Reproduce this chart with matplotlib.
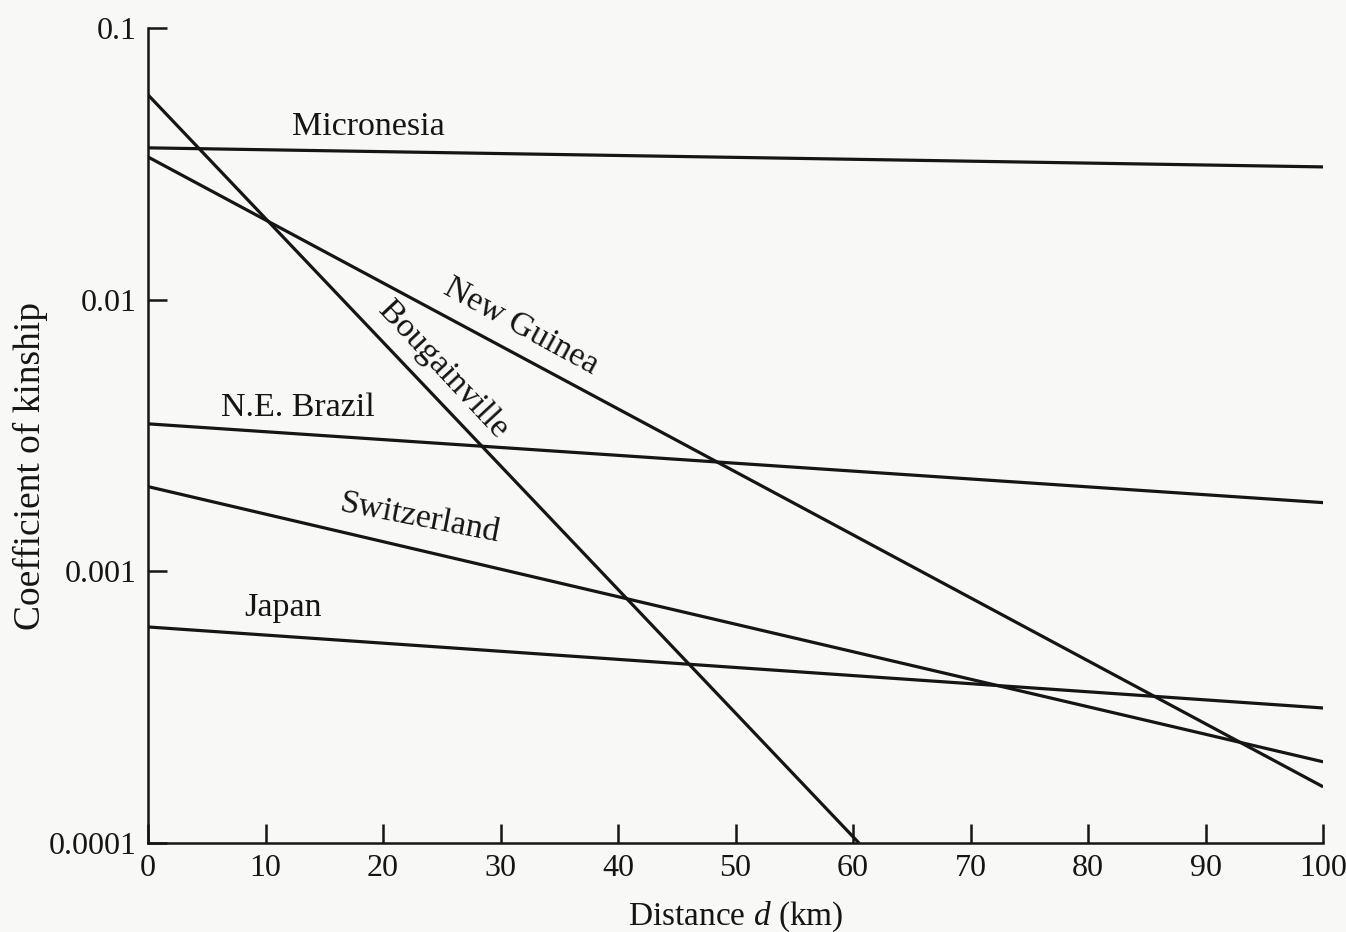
import numpy as np
import matplotlib
matplotlib.use("Agg")
import matplotlib.pyplot as plt

# Kinship decline with distance: each population is a straight line on a log scale,
# given by its coefficient at d = 0 and at the far end of the line.
populations = ["Micronesia", "New Guinea", "Bougainville", "N.E. Brazil", "Switzerland", "Japan"]
kin_start = [0.0362, 0.0335, 0.0567, 0.00349, 0.00205, 0.000624]
kin_end = [0.0308, 0.000161, 0.0001, 0.00179, 0.000199, 0.000314]
dist_end = [100, 100, 60.5, 100, 100, 100]

x_ticks = [0, 10, 20, 30, 40, 50, 60, 70, 80, 90, 100]
y_ticks = [0.0001, 0.001, 0.01, 0.1]
y_tick_labels = ["0.0001", "0.001", "0.01", "0.1"]

# label placement (axes fraction) and rotation for each population
label_pos = {
    "Micronesia": (0.1872, 0.8785, 0),
    "New Guinea": (0.3170, 0.6340, -28.5),
    "Bougainville": (0.2511, 0.5810, -47),
    "N.E. Brazil": (0.1277, 0.5340, 0),
    "Switzerland": (0.2315, 0.3988, -11),
    "Japan": (0.1149, 0.2890, 0),
}

plt.rcParams["font.family"] = ["Liberation Serif", "DejaVu Serif"]
plt.rcParams["mathtext.fontset"] = "custom"
plt.rcParams["mathtext.it"] = "Liberation Serif:italic"
plt.rcParams["mathtext.rm"] = "Liberation Serif"
bg = "#f8f8f6"
ink = "#151515"

fig = plt.figure(figsize=(13.46, 9.32), dpi=100, facecolor=bg)
ax = fig.add_axes([0.11, 0.0955, 0.873, 0.8745], facecolor=bg)

for name, y0, y1, d1 in zip(populations, kin_start, kin_end, dist_end):
    ax.plot([0, d1], [y0, y1], color=ink, lw=2.3, solid_capstyle="butt")
    fx, fy, rot = label_pos[name]
    ax.text(fx, fy, name, transform=ax.transAxes, ha="center", va="center",
            rotation=rot, rotation_mode="anchor", fontsize=24.5, color=ink)

ax.set_yscale("log")
ax.set_xlim(0, 100)
ax.set_ylim(0.0001, 0.1)
ax.set_xticks(x_ticks)
ax.set_xticklabels([str(t) for t in x_ticks])
ax.set_yticks(y_ticks)
ax.set_yticklabels(y_tick_labels)
ax.yaxis.set_minor_locator(matplotlib.ticker.NullLocator())

for side in ("top", "right"):
    ax.spines[side].set_visible(False)
for side in ("left", "bottom"):
    ax.spines[side].set_linewidth(1.8)
    ax.spines[side].set_color(ink)

ax.tick_params(axis="both", direction="in", length=14, width=1.8, color=ink,
               labelsize=23, labelcolor=ink)
ax.tick_params(axis="x", pad=8)
ax.tick_params(axis="y", pad=8)

ax.set_xlabel("Distance $d$ (km)", fontsize=24, color=ink)
ax.xaxis.set_label_coords(0.5, -0.069)
ax.set_ylabel("Coefficient of kinship", fontsize=27, color=ink)
ax.yaxis.set_label_coords(-0.085, 0.462)

fig.savefig("out.png", dpi=100, facecolor=bg)
